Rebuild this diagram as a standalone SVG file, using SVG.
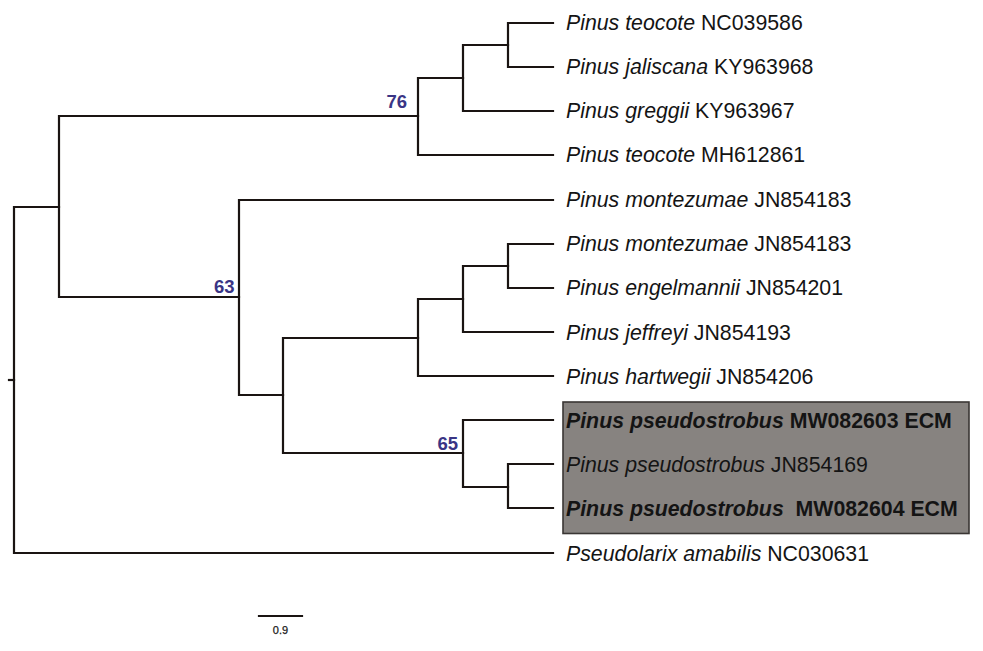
<svg xmlns="http://www.w3.org/2000/svg" width="983" height="651" viewBox="0 0 983 651">
<style>
.br{fill:none;stroke:#1a1412;stroke-width:2.2;stroke-linecap:square}
.lab{font-family:"Liberation Sans",Arial,sans-serif;font-size:21.3px;fill:#141414}
.sp{font-style:italic}
.bold{font-weight:bold}
.bs{font-family:"Liberation Sans",Arial,sans-serif;font-size:18.5px;font-weight:bold;fill:#3a3585;text-anchor:end}
.sc{font-family:"Liberation Sans",Arial,sans-serif;font-size:11px;fill:#1a1a1a;text-anchor:middle;stroke:#1a1a1a;stroke-width:0.25}
</style>
<rect width="983" height="651" fill="#ffffff"/>
<g id="highlight-box">
<rect x="563" y="402" width="406" height="131.5" fill="#878380" stroke="#3a3634" stroke-width="1.6"/>
</g>
<g id="connectors">
<path class="br" d="M9,380H14"/>
<path class="br" d="M14,207V553M14,207H59M14,553H553"/>
<path class="br" d="M59,116V297M59,116H418M59,297H239"/>
<path class="br" d="M418,78V155M418,78H463M418,155H553"/>
<path class="br" d="M463,45V111M463,45H508M463,111H553"/>
<path class="br" d="M508,23V67M508,23H553M508,67H553"/>
<path class="br" d="M239,200V395M239,200H553M239,395H283"/>
<path class="br" d="M283,338V453M283,338H418M283,453H463"/>
<path class="br" d="M418,299V376M418,299H463M418,376H553"/>
<path class="br" d="M463,266V332M463,266H508M463,332H553"/>
<path class="br" d="M508,244V288M508,244H553M508,288H553"/>
<path class="br" d="M463,420V487M463,420H553M463,487H508"/>
<path class="br" d="M508,464V508M508,464H553M508,508H553"/>
</g>
<g id="support">
<text class="bs" x="407" y="108">76</text>
<text class="bs" x="234.5" y="293">63</text>
<text class="bs" x="458" y="450">65</text>
</g>
<g id="leaf1"><text class="lab" x="566" y="30"><tspan class="sp">Pinus teocote</tspan> NC039586</text></g>
<g id="leaf2"><text class="lab" x="566" y="74"><tspan class="sp">Pinus jaliscana</tspan> KY963968</text></g>
<g id="leaf3"><text class="lab" x="566" y="118"><tspan class="sp">Pinus greggii</tspan> KY963967</text></g>
<g id="leaf4"><text class="lab" x="566" y="162"><tspan class="sp">Pinus teocote</tspan> MH612861</text></g>
<g id="leaf5"><text class="lab" x="566" y="207"><tspan class="sp">Pinus montezumae</tspan> JN854183</text></g>
<g id="leaf6"><text class="lab" x="566" y="251"><tspan class="sp">Pinus montezumae</tspan> JN854183</text></g>
<g id="leaf7"><text class="lab" x="566" y="295"><tspan class="sp">Pinus engelmannii</tspan> JN854201</text></g>
<g id="leaf8"><text class="lab" x="566" y="339.5"><tspan class="sp">Pinus jeffreyi</tspan> JN854193</text></g>
<g id="leaf9"><text class="lab" x="566" y="383.5"><tspan class="sp">Pinus hartwegii</tspan> JN854206</text></g>
<g id="leaf10"><text class="lab bold" x="566" y="427.8"><tspan class="sp">Pinus pseudostrobus</tspan> MW082603 ECM</text></g>
<g id="leaf11"><text class="lab" x="566" y="471.8"><tspan class="sp">Pinus pseudostrobus</tspan> JN854169</text></g>
<g id="leaf12"><text class="lab bold" x="566" y="515.8" xml:space="preserve"><tspan class="sp">Pinus psuedostrobus</tspan>  MW082604 ECM</text></g>
<g id="leaf13"><text class="lab" x="566" y="560.6"><tspan class="sp">Pseudolarix amabilis</tspan> NC030631</text></g>
<g id="scale-bar">
<path class="br" d="M259,616H302"/>
<text class="sc" x="280.5" y="634">0.9</text>
</g>
</svg>
